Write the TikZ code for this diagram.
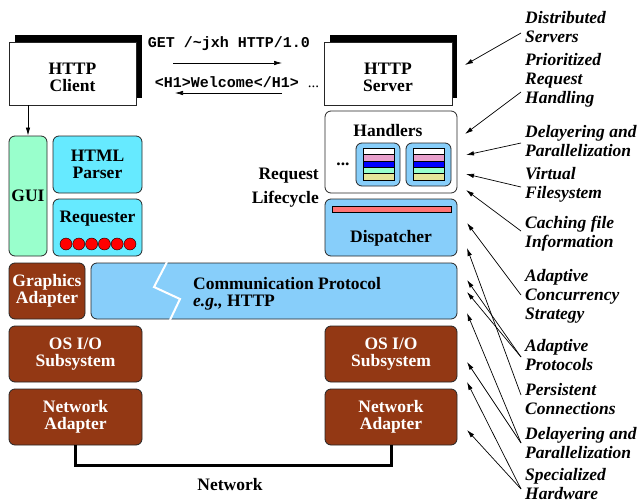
\documentclass[tikz,border=0pt]{standalone}
\usepackage{fontspec}
\setmainfont{Liberation Serif}
\setmonofont{Liberation Mono}
\usetikzlibrary{arrows.meta}

\definecolor{mint}{HTML}{99FFCC}
\definecolor{aqua}{HTML}{66EAFF}
\definecolor{sky}{HTML}{87CEFA}
\definecolor{rust}{HTML}{933814}
\definecolor{salmon}{HTML}{FF7373}
\definecolor{orchid}{HTML}{E8A0CC}
\definecolor{khaki}{HTML}{E6E69A}

\tikzset{
	box/.style={draw=black!85, line width=0.8pt, rounded corners=6pt, inner sep=0pt,
		font=\fontsize{17.5}{17}\selectfont\bfseries, align=center},
	brownbox/.style={box, fill=rust, text=white},
	skybox/.style={box, fill=sky},
	bold/.style={font=\fontsize{17.5}{17}\selectfont\bfseries, align=center, inner sep=0pt},
	note/.style={font=\fontsize{17.5}{19}\selectfont\bfseries\itshape, align=left, anchor=west, inner sep=0pt},
	pointer/.style={-{Latex[length=8pt,width=4.5pt]}, line width=0.7pt},
	stripe/.style={draw=black, line width=0.6pt},
}

\begin{document}
\begin{tikzpicture}[x=1pt, y=-1pt]
			%%%%% START %%%%%
			\useasboundingbox (0,0) rectangle (641,504);
			
			% client and server
			\fill[black] (15,35) rectangle (142,98);
			\node[box, fill=white, rounded corners=0pt, minimum width=127pt, minimum height=63pt] (cli) at (72.5,73.5) {};
			\node[bold] (clitext) at (72.5,77) {HTTP\\Client};
			\fill[black] (330,35) rectangle (457,98);
			\node[box, fill=white, rounded corners=0pt, minimum width=128pt, minimum height=63pt] (srv) at (388,73.5) {};
			\node[bold] (srvtext) at (388,77) {HTTP\\Server};
			
			\node[font=\fontsize{15}{15}\selectfont\ttfamily\bfseries, inner sep=0pt] (get) at (229,44) {GET /\textasciitilde jxh HTTP/1.0};
			\node[font=\fontsize{15}{15}\selectfont\bfseries, inner sep=0pt] (reply) at (237,82) {\ttfamily <H1>Welcome</H1> \rmfamily\mdseries ...};
			\coordinate (getA) at (173,63);
			\coordinate (getB) at (282,63);
			\coordinate (replyA) at (282,93);
			\coordinate (replyB) at (175,93);
			\draw[pointer] (getA) -- (getB);
			\draw[pointer] (replyA) -- (replyB);
			
			% client side
			\node[box, fill=mint, minimum width=38pt, minimum height=120pt] (gui) at (28,196) {GUI};
			\node[box, fill=aqua, minimum width=89pt, minimum height=57pt] (parser) at (97.5,164.5) {HTML\\Parser};
			\node[box, fill=aqua, minimum width=89pt, minimum height=57pt] (req) at (97.5,227.5) {};
			\node[bold] (reqtext) at (97.5,219) {Requester};
			\draw[pointer] (gui.north |- cli.south) -- (gui.north);
			
			\draw[fill=red] (66,244) circle (6pt);
			\draw[fill=red] (78.8,244) circle (6pt);
			\draw[fill=red] (91.6,244) circle (6pt);
			\draw[fill=red] (104.4,244) circle (6pt);
			\draw[fill=red] (117.2,244) circle (6pt);
			\draw[fill=red] (130,244) circle (6pt);
			
			% server side
			\node[box, fill=white, minimum width=132pt, minimum height=82pt] (hdl) at (391,152) {};
			\node[bold] (hdltext) at (388,131) {Handlers};
			\node[bold] (dots) at (343,164) {...};
			\node[skybox, minimum width=44pt, minimum height=43pt] (thrA) at (378,164.5) {};
			\node[skybox, minimum width=45pt, minimum height=43pt] (thrB) at (428.5,164.5) {};
			
			\draw[stripe, fill=white] (363,148) rectangle (394,154.4);
			\draw[stripe, fill=orchid] (363,154.4) rectangle (394,160.8);
			\draw[stripe, fill=blue] (363,160.8) rectangle (394,167.2);
			\draw[stripe, fill=mint] (363,167.2) rectangle (394,173.6);
			\draw[stripe, fill=khaki] (363,173.6) rectangle (394,180);
			\draw[stripe, fill=white] (413,148) rectangle (444,154.4);
			\draw[stripe, fill=orchid] (413,154.4) rectangle (444,160.8);
			\draw[stripe, fill=blue] (413,160.8) rectangle (444,167.2);
			\draw[stripe, fill=mint] (413,167.2) rectangle (444,173.6);
			\draw[stripe, fill=khaki] (413,173.6) rectangle (444,180);
			
			\node[font=\fontsize{17.5}{24}\selectfont\bfseries, align=right, anchor=east, inner sep=0pt] (life) at (319,188) {Request\\Lifecycle};
			
			\node[skybox, minimum width=132pt, minimum height=57pt] (disp) at (391,227.5) {};
			\draw[stripe, fill=salmon] (332,206) rectangle (451,212);
			\node[bold] (disptext) at (391,238) {Dispatcher};
			
			% protocol and lower layers
			\node[brownbox, minimum width=76pt, minimum height=56pt] (gfx) at (47,291) {Graphics\\Adapter};
			\node[skybox, minimum width=366pt, minimum height=56pt] (proto) at (274,291) {};
			\draw[white, line width=2pt] (167,262) -- (154,287) -- (180,299) -- (170,320);
			\node[bold, align=left, anchor=west] (prototext) at (193,294) {Communication Protocol\\\textit{e.g.,} HTTP};
			
			\node[brownbox, minimum width=133pt, minimum height=56pt] (osL) at (75.5,354) {OS I/O\\Subsystem};
			\node[brownbox, minimum width=132pt, minimum height=56pt] (osR) at (391,354) {OS I/O\\Subsystem};
			\node[brownbox, minimum width=133pt, minimum height=56pt] (naL) at (75.5,417) {Network\\Adapter};
			\node[brownbox, minimum width=132pt, minimum height=56pt] (naR) at (391,417) {Network\\Adapter};
			
			\coordinate (netmid) at (230,465);
			\draw[line width=3pt] (naL.south) |- (netmid) -| (naR.south);
			\node[bold] (net) at (230,485) {Network};
			
			% optimisations
			\node[note] (lDS) at (525,27.5) {Distributed\\Servers};
			\node[note] (lPRH) at (525,80.5) {Prioritized\\Request\\Handling};
			\node[note] (lDP1) at (525,141) {Delayering and\\Parallelization};
			\node[note] (lVF) at (525,185) {Virtual\\Filesystem};
			\node[note] (lCI) at (525,234) {Caching file\\Information};
			\node[note] (lACS) at (525,296) {Adaptive\\Concurrency\\Strategy};
			\node[note] (lAP) at (525,355.5) {Adaptive\\Protocols};
			\node[note] (lPC) at (525,399) {Persistent\\Connections};
			\node[note] (lDP2) at (525,443) {Delayering and\\Parallelization};
			\node[note] (lSH) at (525,484) {Specialized\\Hardware};
			
			\coordinate (tDS) at (521,33);
			\coordinate (tPRH) at (521,92);
			\coordinate (tDP1) at (521,143);
			\coordinate (tVF) at (521,187);
			\coordinate (tCI) at (521,231);
			\coordinate (tACS) at (521,295);
			\coordinate (tAP) at (521,357);
			\coordinate (tPC) at (521,395);
			\coordinate (tDP2) at (521,443);
			\coordinate (tSH) at (521,489);
			
			\coordinate (hDS) at (465,65);
			\coordinate (hPRH) at (465,134);
			\coordinate (hDP1) at (466,155);
			\coordinate (hVF) at (466,174);
			\coordinate (hCI) at (466,190);
			\coordinate (hACS) at (467,223);
			\coordinate (hPC) at (467,248);
			\coordinate (hAPa) at (467,280);
			\coordinate (hAPb) at (467,292);
			\coordinate (hDPa) at (467,313);
			\coordinate (hDPb) at (467,362);
			\coordinate (hSHa) at (467,382);
			\coordinate (hSHb) at (467,430);
			
			\draw[pointer] (tDS) -- (hDS);
			\draw[pointer] (tPRH) -- (hPRH);
			\draw[pointer] (tDP1) -- (hDP1);
			\draw[pointer] (tVF) -- (hVF);
			\draw[pointer] (tCI) -- (hCI);
			\draw[pointer] (tACS) -- (hACS);
			\draw[pointer] (tPC) -- (hPC);
			\draw[pointer] (tAP) -- (hAPa);
			\draw[pointer] (tAP) -- (hAPb);
			\draw[pointer] (tDP2) -- (hDPa);
			\draw[pointer] (tDP2) -- (hDPb);
			\draw[pointer] (tSH) -- (hSHa);
			\draw[pointer] (tSH) -- (hSHb);
			
			%%%%% END %%%%%
\end{tikzpicture}
\end{document}
